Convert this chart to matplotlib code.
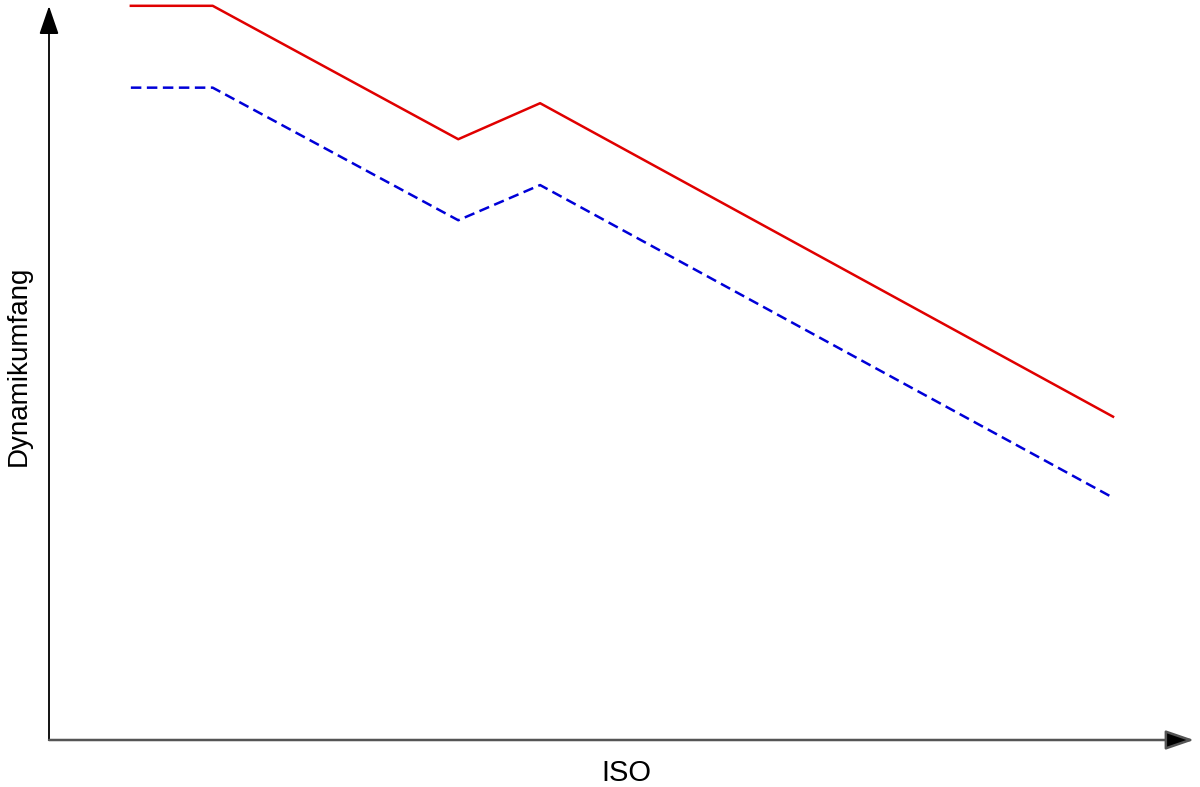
import matplotlib
matplotlib.use("Agg")
import matplotlib.pyplot as plt

# ISO steps (abstract positions) and dynamic range of the two curves
iso_pos = [1, 2, 5, 6, 13]
dr_upper = [8.97, 8.97, 7.34, 7.78, 3.95]
dr_lower = [7.97, 7.97, 6.35, 6.78, 2.96]

plt.rcParams["font.family"] = ["Liberation Sans", "DejaVu Sans"]

W, H, DPI = 1200, 787, 100
fig = plt.figure(figsize=(W / DPI, H / DPI), dpi=DPI)
fig.patch.set_facecolor("white")
x0, x1, ytop, ybot = 49, 1200, 0, 740
ax = fig.add_axes([x0 / W, 1 - ybot / H, (x1 - x0) / W, (ybot - ytop) / H])
unit = 81.85
ax.set_xlim(0, (x1 - x0) / unit)
ax.set_ylim(0, (ybot - ytop) / unit)

ax.plot(iso_pos, dr_upper, color="#e00000", lw=1.8, clip_on=False)
ax.plot(iso_pos, dr_lower, color="#0000d8", lw=1.8, ls=(0, (4.2, 2.2)), clip_on=False)

for s in ax.spines.values():
    s.set_visible(False)
ax.set_xticks([]); ax.set_yticks([])
ax.patch.set_alpha(0)

head = "-|>,head_length=1.75,head_width=0.6"
ax.annotate("", xy=(0, 1 - 6 / 740), xytext=(0, 0), xycoords="axes fraction",
            arrowprops=dict(arrowstyle=head, color="black", lw=1.3,
                            shrinkA=0, shrinkB=0, mutation_scale=10))
ax.annotate("", xy=((1194 - x0) / (x1 - x0), 0), xytext=(0, 0), xycoords="axes fraction",
            arrowprops=dict(arrowstyle=head, color="#555555", lw=1.8, fc="black", ec="#555555",
                            shrinkA=0, shrinkB=0, mutation_scale=10))

fig.text(626 / W, 1 - 773 / H, "ISO", ha="center", va="center", fontsize=21, color="black")
fig.text(19 / W, 1 - 366 / H, "Dynamikumfang", ha="center", va="center", rotation=90,
         fontsize=20, color="black")

fig.savefig("out.png", dpi=DPI, facecolor="white")
